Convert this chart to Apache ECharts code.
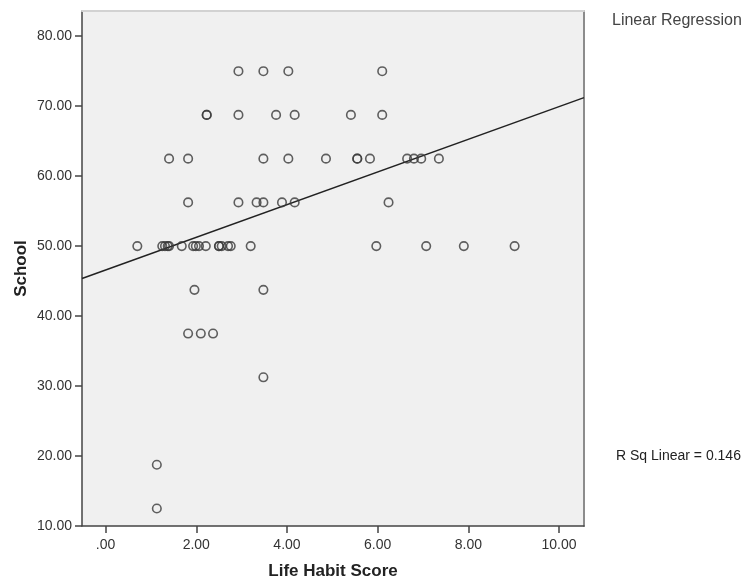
<!DOCTYPE html>
<html>
<head>
<meta charset="utf-8">
<script src="https://cdn.jsdelivr.net/npm/echarts@6/dist/echarts.min.js"></script>
<style>
html,body{margin:0;padding:0;background:#fff;}
#chart{width:748px;height:583px;}
</style>
</head>
<body>
<div id="chart"></div>
<script>
// ---- data ----
const lifeHabitScore = [
  2.93, 3.48, 4.03, 6.10,
  2.23, 2.23, 2.93, 3.76, 4.17, 5.41, 6.10,
  1.40, 1.82, 3.48, 4.03, 4.86, 5.55, 5.55, 5.83, 6.65, 6.80, 6.96, 7.35,
  1.82, 2.93, 3.33, 3.48, 3.89, 4.17, 6.24,
  0.70, 1.25, 1.31, 1.37, 1.40, 1.68, 1.93, 1.99, 2.06, 2.21, 2.50, 2.50, 2.56, 2.70, 2.76, 3.20, 5.97, 7.07, 7.90, 9.02,
  1.96, 3.48,
  1.82, 2.10, 2.37,
  3.48,
  1.13,
  1.13
];
const school = [
  75, 75, 75, 75,
  68.75, 68.75, 68.75, 68.75, 68.75, 68.75, 68.75,
  62.5, 62.5, 62.5, 62.5, 62.5, 62.5, 62.5, 62.5, 62.5, 62.5, 62.5, 62.5,
  56.25, 56.25, 56.25, 56.25, 56.25, 56.25, 56.25,
  50, 50, 50, 50, 50, 50, 50, 50, 50, 50, 50, 50, 50, 50, 50, 50, 50, 50, 50, 50,
  43.75, 43.75,
  37.5, 37.5, 37.5,
  31.25,
  18.75,
  12.5
];
const fitIntercept = 46.58;
const fitSlope = 2.335;
const rSqText = 'R Sq Linear = 0.146';
const legendText = 'Linear Regression';
const xTicks = [0, 2, 4, 6, 8, 10];
const yTicks = [10, 20, 30, 40, 50, 60, 70, 80];
const xName = 'Life Habit Score';
const yName = 'School';

// ---- build ----
const xMin = -0.52, xMax = 10.55, yMin = 10, yMax = 83.6;
const points = lifeHabitScore.map((x, i) => [x, school[i]]);
const fitLine = [xMin, xMax].map(x => [x, fitIntercept + fitSlope * x]);
const fmt = v => { const s = v.toFixed(2); return s.startsWith('0.') ? s.slice(1) : s; };

const chart = echarts.init(document.getElementById('chart'), null, {renderer: 'canvas'});
const font = '"Liberation Sans", Arial, sans-serif';
chart.setOption({
  animation: false,
  backgroundColor: '#ffffff',
  grid: {left: 82, top: 11, width: 502, height: 515, show: true,
         backgroundColor: '#f0f0f0', borderWidth: 0,
         containLabel: false, outerBoundsMode: 'none'},
  xAxis: [{
    type: 'value', min: xMin, max: xMax, position: 'bottom',
    name: xName, nameLocation: 'middle', nameGap: 37, nameMoveOverlap: false,
    nameTextStyle: {fontFamily: font, fontWeight: 'bold', fontSize: 17, color: '#222'},
    axisLine: {show: true, onZero: false, lineStyle: {color: '#444', width: 1.5}},
    axisTick: {show: true, inside: false, customValues: xTicks, length: 7, lineStyle: {color: '#444', width: 1.5}},
    axisLabel: {customValues: xTicks, formatter: fmt, fontFamily: font, fontSize: 14, color: '#333', margin: 12},
    splitLine: {show: false}
  }, {
    type: 'value', min: xMin, max: xMax, position: 'top',
    axisLine: {show: true, onZero: false, lineStyle: {color: '#d2d2d2', width: 2}},
    axisTick: {show: false}, axisLabel: {show: false}, splitLine: {show: false}
  }],
  yAxis: [{
    type: 'value', min: yMin, max: yMax, position: 'left',
    name: yName, nameLocation: 'middle', nameGap: 52, nameRotate: 90, nameMoveOverlap: false,
    nameTextStyle: {fontFamily: font, fontWeight: 'bold', fontSize: 17, color: '#222'},
    axisLine: {show: true, onZero: false, lineStyle: {color: '#444', width: 1.5}},
    axisTick: {show: true, inside: false, customValues: yTicks, length: 7, lineStyle: {color: '#444', width: 1.5}},
    axisLabel: {customValues: yTicks, formatter: fmt, fontFamily: font, fontSize: 14, color: '#333', margin: 10},
    splitLine: {show: false}
  }, {
    type: 'value', min: yMin, max: yMax, position: 'right',
    axisLine: {show: true, onZero: false, lineStyle: {color: '#8c8c8c', width: 2}},
    axisTick: {show: false}, axisLabel: {show: false}, splitLine: {show: false}
  }],
  series: [{
    type: 'line', data: fitLine, symbol: 'none', silent: true,
    lineStyle: {color: '#222', width: 1.5}, z: 3
  }, {
    type: 'scatter', data: points, symbol: 'circle', symbolSize: 8.5,
    itemStyle: {color: 'rgba(0,0,0,0)', borderColor: '#3a3a3a', borderWidth: 1.6}, z: 4
  }],
  graphic: [{
    type: 'text', left: 612, top: 13,
    style: {text: legendText, font: '16px "Liberation Sans", Arial, sans-serif', fill: '#444'}
  }, {
    type: 'text', left: 616, top: 449,
    style: {text: rSqText, font: '14px "Liberation Sans", Arial, sans-serif', fill: '#222'}
  }]
});
</script>
</body>
</html>
